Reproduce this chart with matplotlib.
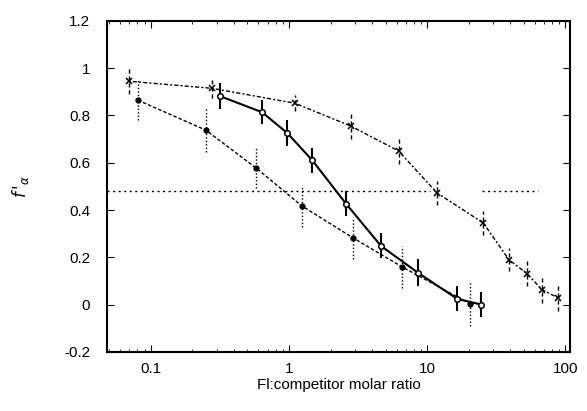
import numpy as np
import matplotlib
matplotlib.use('Agg')
import matplotlib.pyplot as plt

plt.rcParams['font.family'] = ['Liberation Sans', 'DejaVu Sans']

# series A: crosses, dash-dot line (upper curve)
xa = [0.069, 0.277, 1.10, 2.81, 6.2, 11.8, 25.5, 39, 53, 68, 89]
ya = [0.945, 0.915, 0.852, 0.755, 0.65, 0.472, 0.345, 0.19, 0.13, 0.062, 0.028]
ea = [0.055, 0.04, 0.035, 0.055, 0.057, 0.05, 0.05, 0.05, 0.053, 0.055, 0.057]

# series B: filled dots, dashed line
xb = [0.0805, 0.25, 0.577, 1.24, 2.91, 6.6, 20.5]
yb = [0.865, 0.738, 0.578, 0.417, 0.282, 0.159, 0.003]
eb = [0.085, 0.093, 0.085, 0.09, 0.09, 0.09, 0.093]

# series C: open circles, solid line
xc = [0.316, 0.637, 0.97, 1.47, 2.59, 4.63, 8.6, 16.5, 24.6]
yc = [0.882, 0.814, 0.726, 0.611, 0.426, 0.248, 0.134, 0.024, 0.0]
ec = [0.055, 0.05, 0.053, 0.053, 0.053, 0.053, 0.057, 0.053, 0.053]

# half-level reference line segments
half = 0.48
seg1 = [0.048, 10.5]
seg2 = [25.0, 63.0]

fig = plt.figure(figsize=(5.87, 4.11), dpi=100)
ax = fig.add_axes([0.182, 0.144, 0.789, 0.805])

ax.plot(seg1, [half, half], color='k', lw=1.0, linestyle=(0, (1.5, 2.5)))
ax.plot(seg2, [half, half], color='k', lw=1.0, linestyle=(0, (1.5, 2.5)))

ax.errorbar(xa, ya, yerr=ea, color='k', lw=1.0, linestyle=(0, (1.5, 1.5, 3, 1.5)),
            marker='x', ms=4, mew=1.1, capsize=0)
ax.errorbar(xb, yb, yerr=eb, color='k', lw=1.0, linestyle=(0, (2.5, 1.5)),
            marker='o', ms=3.5, capsize=0)
ax.errorbar(xc, yc, yerr=ec, color='k', lw=1.5, linestyle='-',
            marker='o', ms=4, mfc='white', mew=1.1, capsize=0)

# error bar line styles
for coll, ls in zip(ax.collections, [(0, (3, 2)), (0, (1, 1.5)), '-']):
    coll.set_linestyle(ls)

ax.set_xscale('log')
ax.set_xlim(0.048, 108)
ax.set_ylim(-0.2, 1.2)
ax.set_yticks(np.arange(-0.2, 1.21, 0.2))
ax.set_yticklabels(['-0.2', '0', '0.2', '0.4', '0.6', '0.8', '1', '1.2'])
ax.set_xticks([0.1, 1, 10, 100])
ax.set_xticklabels(['0.1', '1', '10', '100'])

ax.tick_params(which='both', direction='in', top=True, right=True, labelsize=11)
ax.tick_params(axis='y', pad=12)
ax.tick_params(axis='x', pad=7)
ax.tick_params(which='major', length=5)
ax.tick_params(which='minor', length=2.5)
for s in ax.spines.values():
    s.set_linewidth(1.5)

ax.set_xlabel('Fl:competitor molar ratio', fontsize=11, labelpad=2)
ax.set_ylabel(r"$f\,'_{\alpha}$", fontsize=12, labelpad=24)

fig.savefig('out.png', dpi=100)
